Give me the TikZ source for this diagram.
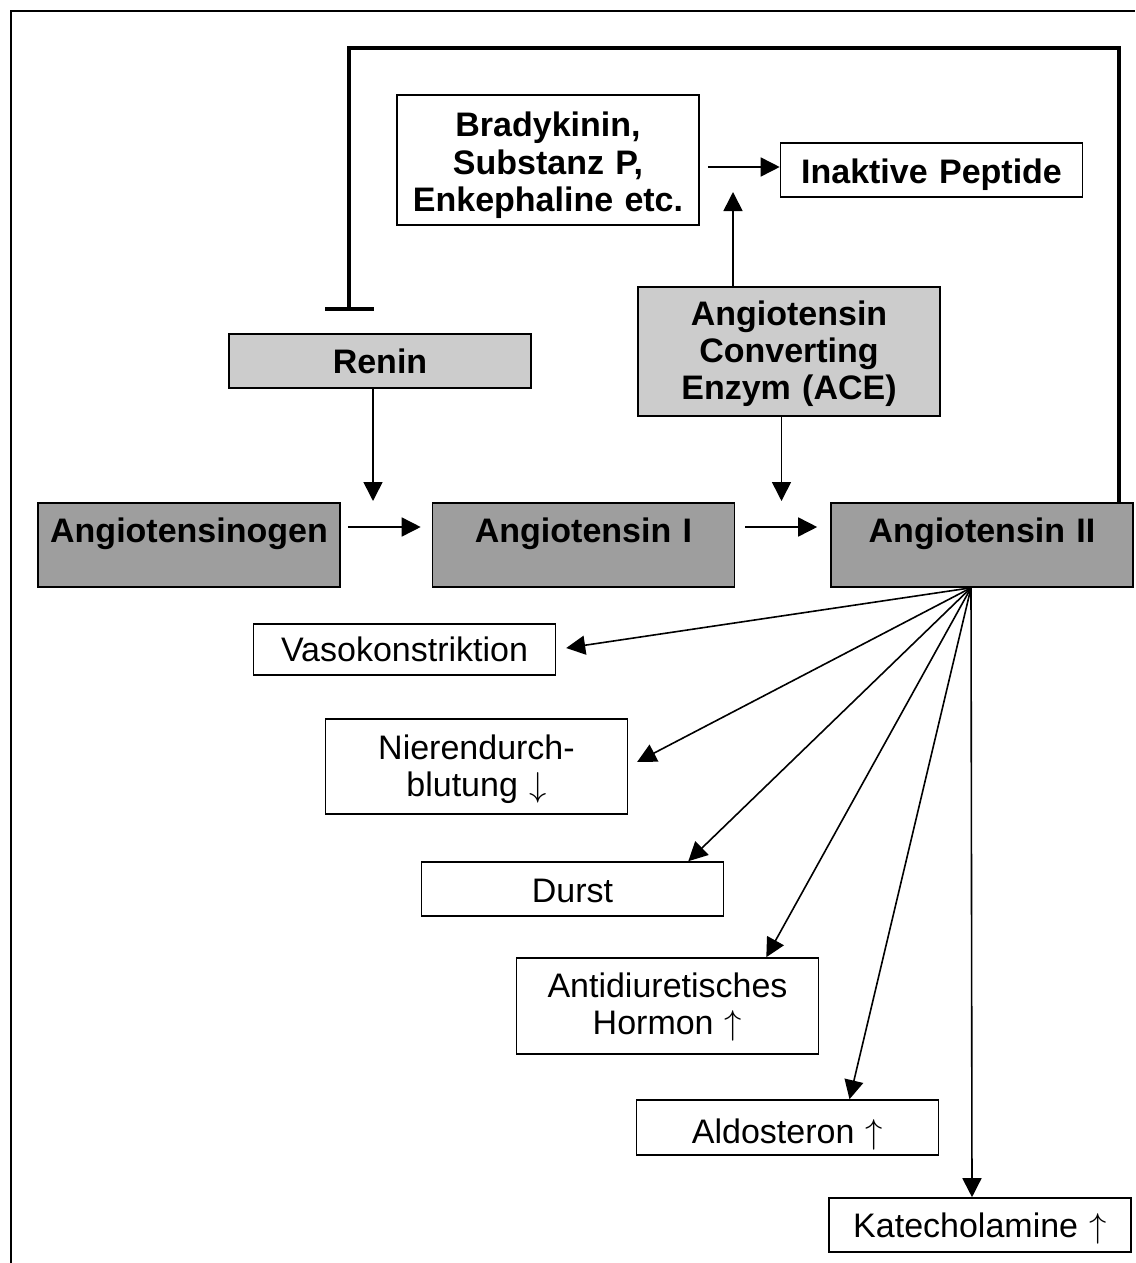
\documentclass[tikz,border=0pt]{standalone}
\usepackage{fontspec}
\setmainfont{Liberation Sans}
\usetikzlibrary{arrows.meta}

\begin{document}
\begin{tikzpicture}[x=0.5pt,y=-0.5pt,line width=0.8pt,
  >={Triangle[length=9.5pt,width=9.5pt]},
  box/.style={draw,inner sep=0pt,text width=151pt,align=center,
    font=\fontsize{17}{18.5}\selectfont},
  effect/.style={box,fill=white},
  substrate/.style={box,fill=white,font=\fontsize{17}{18.5}\selectfont\bfseries},
  enzyme/.style={box,fill=black!20,font=\fontsize{17}{18.5}\selectfont\bfseries},
  peptide/.style={box,fill=black!38,font=\fontsize{17}{18.5}\selectfont\bfseries},
  inhibit/.style={line width=2pt,-{Bar[width=24.5pt]}}]
\useasboundingbox (0,0) rectangle (1135,1263);
\draw (11,1263) |- (1135,11);
\node[substrate,text height=21pt,text depth=44pt]      (brady)   at (548,160)     {Bradykinin,\\Substanz P,\\Enkephaline etc.};
\node[substrate,text height=20.25pt,text depth=6.75pt] (inaktiv) at (931.5,170)   {Inaktive Peptide};
\node[enzyme,text height=19pt,text depth=45.5pt]       (ace)     at (789,351.5)   {Angiotensin\\Converting\\Enzym (ACE)};
\node[enzyme,text height=19.5pt,text depth=7.5pt]      (renin)   at (380,361)     {Renin};
\node[peptide,text height=19.5pt,text depth=22.5pt]    (ang_0)   at (189,545)     {Angiotensinogen};
\node[peptide,text height=19.5pt,text depth=22.5pt]    (ang_1)   at (583.5,545)   {Angiotensin I};
\node[peptide,text height=19.5pt,text depth=22.5pt]    (ang_2)   at (982,545)     {Angiotensin II};
\node[effect,text height=18.5pt,text depth=7pt]        (vaso)    at (404.5,649.5) {Vasokonstriktion};
\node[effect,text height=20pt,text depth=27.5pt]       (niere)   at (476.5,766.5) {Nierendurch-\\blutung $\downarrow$};
\node[effect,text height=20pt,text depth=7pt]          (durst)   at (572.5,889)   {Durst};
\node[effect,text height=19.5pt,text depth=28.5pt]     (adh)     at (667.5,1006)  {Antidiuretisches\\Hormon $\uparrow$};
\node[effect,text height=21.5pt,text depth=6pt]        (aldo)    at (787.5,1127.5){Aldosteron $\uparrow$};
\node[effect,text height=19.5pt,text depth=7.5pt]      (kat)     at (980,1225)    {Katecholamine $\uparrow$};
\coordinate (fan)       at ([xshift=-5.5pt]ang_2.south);
\coordinate (renin_tip) at (373,501);
\coordinate (ace_tip)   at (781.5,501);
\coordinate (ace_up)    at (733,192);
\coordinate (fb_top)    at (349,48);
\coordinate (fb_end)    at (349,311);
\draw[inhibit] ([xshift=-7.5pt]ang_2.north east) |- (fb_top) -- (fb_end);
\path[->] ([yshift=-3.5pt]brady.east) edge [shorten <=4pt]                  ([yshift=1.5pt]inaktiv.west)
          ([xshift=-28pt]ace.north)   edge                                  (ace_up)
          ([xshift=-3.5pt]renin.south) edge                                 (renin_tip)
          ([xshift=-3.75pt]ace.south) edge                                  (ace_tip)
          ([yshift=9pt]ang_0.east)    edge [shorten <=3.5pt,shorten >=5.5pt] ([yshift=9pt]ang_1.west)
          ([yshift=9pt]ang_1.east)    edge [shorten <=5pt,shorten >=6.5pt]   ([yshift=9pt]ang_2.west)
          (fan) edge [shorten >=5pt] (vaso.east)
                edge [shorten >=5pt] (niere.east)
                edge                 ([xshift=-18pt]durst.north east)
                edge                 ([xshift=-26.5pt]adh.north east)
                edge                 ([xshift=31pt]aldo.north)
                edge                 ([xshift=-4pt]kat.north);
\end{tikzpicture}
\end{document}
